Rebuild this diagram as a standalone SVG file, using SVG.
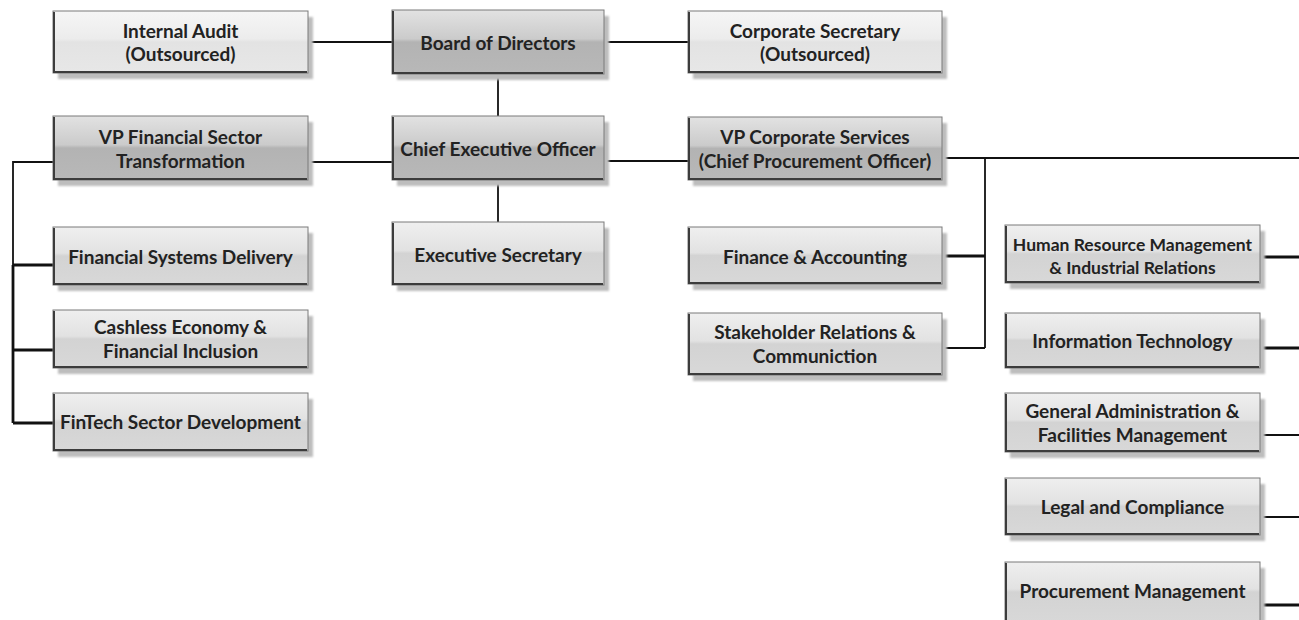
<svg xmlns="http://www.w3.org/2000/svg" width="1299" height="620" viewBox="0 0 1299 620">
  <defs>
    <linearGradient id="gLight" x1="0" y1="0" x2="0" y2="1">
      <stop offset="0" stop-color="#f6f6f6"/>
      <stop offset="0.45" stop-color="#ececec"/>
      <stop offset="0.5" stop-color="#e3e3e3"/>
      <stop offset="1" stop-color="#e7e7e7"/>
    </linearGradient>
    <linearGradient id="gMid" x1="0" y1="0" x2="0" y2="1">
      <stop offset="0" stop-color="#efefef"/>
      <stop offset="0.45" stop-color="#e2e2e2"/>
      <stop offset="0.5" stop-color="#d3d3d3"/>
      <stop offset="1" stop-color="#d8d8d8"/>
    </linearGradient>
    <linearGradient id="gDark" x1="0" y1="0" x2="0" y2="1">
      <stop offset="0" stop-color="#e2e2e2"/>
      <stop offset="0.45" stop-color="#cbcbcb"/>
      <stop offset="0.5" stop-color="#b3b3b3"/>
      <stop offset="1" stop-color="#b8b8b8"/>
    </linearGradient>
    <filter id="soft" x="-5%" y="-10%" width="110%" height="120%">
      <feGaussianBlur stdDeviation="1"/>
    </filter>
    <style>
      .shadow { fill: #bdbdbd; filter: url(#soft); }
      .box { stroke: #7a7a7a; stroke-width: 1; }
      .light { fill: url(#gLight); }
      .mid { fill: url(#gMid); }
      .dark { fill: url(#gDark); }
      .bevel { fill: none; stroke: #3c3c3c; stroke-width: 2; }
      .label { font-family: Lato, "Liberation Sans", sans-serif; font-weight: bold; font-size: 19px; fill: #222; text-anchor: middle; }
      .small { font-size: 17.5px; }
      .conn { fill: none; stroke: #111; stroke-width: 1.8; }
      .thick { stroke-width: 2.8; }
    </style>
  </defs>

  <rect width="1299" height="620" fill="#ffffff"/>

  <!-- connectors -->
  <g id="connectors">
    <path class="conn" d="M308 42 H392"/>
    <path class="conn" d="M604 42 H688"/>
    <path class="conn" d="M498 74 V116"/>
    <path class="conn" d="M498 180 V222"/>
    <path class="conn" d="M308 162 H392"/>
    <path class="conn" d="M604 161 H688"/>
    <!-- financial sector branch -->
    <path class="conn" d="M53 162 H13 V265"/>
    <path class="conn thick" d="M13 265 V423"/>
    <path class="conn thick" d="M13 265 H53"/>
    <path class="conn thick" d="M13 350 H53"/>
    <path class="conn thick" d="M13 423 H53"/>
    <!-- corporate services branch -->
    <path class="conn" d="M942 158 H1299"/>
    <path class="conn" d="M985 158 V348"/>
    <path class="conn thick" d="M942 256 H985"/>
    <path class="conn" d="M942 348 H985"/>
    <path class="conn thick" d="M1260 257 H1299"/>
    <path class="conn thick" d="M1260 348 H1299"/>
    <path class="conn" d="M1260 435 H1299"/>
    <path class="conn" d="M1260 517 H1299"/>
    <path class="conn thick" d="M1260 605 H1299"/>
  </g>

  <!-- nodes -->
  <g id="internal-audit">
    <rect class="shadow" x="58" y="17" width="255" height="62"/>
    <rect class="box light" x="53" y="11" width="255" height="62"/>
    <path class="bevel" d="M54 12 V72 H307"/>
    <text class="label" x="180.5" y="38">Internal Audit</text>
    <text class="label" x="180.5" y="61">(Outsourced)</text>
  </g>

  <g id="board">
    <rect class="shadow" x="397" y="16" width="212" height="64"/>
    <rect class="box dark" x="392" y="10" width="212" height="64"/>
    <path class="bevel" d="M393 11 V73 H603"/>
    <text class="label" x="498" y="50">Board of Directors</text>
  </g>

  <g id="corporate-secretary">
    <rect class="shadow" x="693" y="17" width="254" height="62"/>
    <rect class="box light" x="688" y="11" width="254" height="62"/>
    <path class="bevel" d="M689 12 V72 H941"/>
    <text class="label" x="815" y="38">Corporate Secretary</text>
    <text class="label" x="815" y="61">(Outsourced)</text>
  </g>

  <g id="vp-financial-sector">
    <rect class="shadow" x="58" y="122" width="255" height="64"/>
    <rect class="box dark" x="53" y="116" width="255" height="64"/>
    <path class="bevel" d="M54 117 V179 H307"/>
    <text class="label" x="180.5" y="144">VP Financial Sector</text>
    <text class="label" x="180.5" y="168">Transformation</text>
  </g>

  <g id="ceo">
    <rect class="shadow" x="397" y="122" width="212" height="64"/>
    <rect class="box dark" x="392" y="116" width="212" height="64"/>
    <path class="bevel" d="M393 117 V179 H603"/>
    <text class="label" x="498" y="156">Chief Executive Officer</text>
  </g>

  <g id="vp-corporate-services">
    <rect class="shadow" x="693" y="123" width="254" height="63"/>
    <rect class="box dark" x="688" y="117" width="254" height="63"/>
    <path class="bevel" d="M689 118 V179 H941"/>
    <text class="label" x="815" y="144">VP Corporate Services</text>
    <text class="label" x="815" y="168">(Chief Procurement Officer)</text>
  </g>

  <g id="executive-secretary">
    <rect class="shadow" x="397" y="228" width="212" height="63"/>
    <rect class="box mid" x="392" y="222" width="212" height="63"/>
    <path class="bevel" d="M393 223 V284 H603"/>
    <text class="label" x="498" y="262">Executive Secretary</text>
  </g>

  <g id="financial-systems-delivery">
    <rect class="shadow" x="58" y="233" width="255" height="58"/>
    <rect class="box mid" x="53" y="227" width="255" height="58"/>
    <path class="bevel" d="M54 228 V284 H307"/>
    <text class="label" x="180.5" y="264">Financial Systems Delivery</text>
  </g>

  <g id="cashless-economy">
    <rect class="shadow" x="58" y="316" width="255" height="58"/>
    <rect class="box mid" x="53" y="310" width="255" height="58"/>
    <path class="bevel" d="M54 311 V367 H307"/>
    <text class="label" x="180.5" y="334">Cashless Economy &amp;</text>
    <text class="label" x="180.5" y="358">Financial Inclusion</text>
  </g>

  <g id="fintech">
    <rect class="shadow" x="58" y="399" width="255" height="58"/>
    <rect class="box mid" x="53" y="393" width="255" height="58"/>
    <path class="bevel" d="M54 394 V450 H307"/>
    <text class="label" x="180.5" y="429">FinTech Sector Development</text>
  </g>

  <g id="finance-accounting">
    <rect class="shadow" x="693" y="233" width="254" height="57"/>
    <rect class="box mid" x="688" y="227" width="254" height="57"/>
    <path class="bevel" d="M689 228 V283 H941"/>
    <text class="label" x="815" y="264">Finance &amp; Accounting</text>
  </g>

  <g id="stakeholder-relations">
    <rect class="shadow" x="693" y="319" width="254" height="62"/>
    <rect class="box mid" x="688" y="313" width="254" height="62"/>
    <path class="bevel" d="M689 314 V374 H941"/>
    <text class="label" x="815" y="339">Stakeholder Relations &amp;</text>
    <text class="label" x="815" y="363">Communiction</text>
  </g>

  <g id="human-resources">
    <rect class="shadow" x="1010" y="231" width="255" height="58"/>
    <rect class="box mid" x="1005" y="225" width="255" height="58"/>
    <path class="bevel" d="M1006 226 V282 H1259"/>
    <text class="label small" x="1132.5" y="251">Human Resource Management</text>
    <text class="label small" x="1132.5" y="274">&amp; Industrial Relations</text>
  </g>

  <g id="information-technology">
    <rect class="shadow" x="1010" y="319" width="255" height="55"/>
    <rect class="box mid" x="1005" y="313" width="255" height="55"/>
    <path class="bevel" d="M1006 314 V367 H1259"/>
    <text class="label" x="1132.5" y="348">Information Technology</text>
  </g>

  <g id="general-administration">
    <rect class="shadow" x="1010" y="399" width="255" height="59"/>
    <rect class="box mid" x="1005" y="393" width="255" height="59"/>
    <path class="bevel" d="M1006 394 V451 H1259"/>
    <text class="label" x="1132.5" y="418">General Administration &amp;</text>
    <text class="label" x="1132.5" y="442">Facilities Management</text>
  </g>

  <g id="legal-compliance">
    <rect class="shadow" x="1010" y="484" width="255" height="57"/>
    <rect class="box mid" x="1005" y="478" width="255" height="57"/>
    <path class="bevel" d="M1006 479 V534 H1259"/>
    <text class="label" x="1132.5" y="514">Legal and Compliance</text>
  </g>

  <g id="procurement-management">
    <rect class="shadow" x="1010" y="568" width="255" height="60"/>
    <rect class="box mid" x="1005" y="562" width="255" height="60"/>
    <path class="bevel" d="M1006 563 V621"/>
    <text class="label" x="1132.5" y="598">Procurement Management</text>
  </g>
</svg>
